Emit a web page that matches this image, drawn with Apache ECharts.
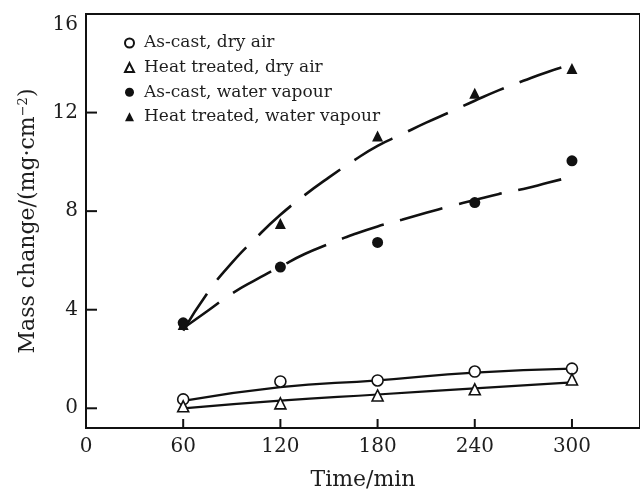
<!DOCTYPE html>
<html>
<head>
<meta charset="utf-8">
<script src="https://cdn.jsdelivr.net/npm/echarts@6/dist/echarts.min.js"></script>
<style>
  html, body { margin: 0; padding: 0; background: #fff; }
  #chart { width: 640px; height: 496px; }
</style>
</head>
<body>
<div id="chart"></div>
<script>
// measured points
const timeVals = [60, 120, 180, 240, 300];
const asCastDry = [0.36, 1.09, 1.13, 1.49, 1.61];
const heatDry = [0.08, 0.2, 0.52, 0.77, 1.17];
const asCastWet = [3.47, 5.73, 6.73, 8.35, 10.04];
const heatWet = [3.4, 7.5, 11.05, 12.78, 13.79];

// fitted curves
const fitTime = [60, 75, 90, 105, 120, 135, 150, 165, 180, 195, 210, 225, 240, 255, 270, 285, 300];
const heatWetFit = [3.15, 4.68, 5.9, 6.92, 7.85, 8.65, 9.37, 10.04, 10.65, 11.12, 11.59, 12.03, 12.48, 12.91, 13.29, 13.65, 13.95];
const asCastWetFit = [3.25, 3.95, 4.65, 5.22, 5.75, 6.26, 6.67, 7.05, 7.38, 7.65, 7.93, 8.2, 8.45, 8.7, 8.9, 9.15, 9.4];
const dryFitTime = [60, 120, 180, 240, 300];
const asCastDryFit = [0.3, 0.86, 1.13, 1.45, 1.61];
const heatDryFit = [0.0, 0.31, 0.56, 0.81, 1.05];

// tick marks
const xTicks = [60, 120, 180, 240, 300];
const yTicks = [0, 4, 8, 12, 16];
const xMin = 0, xMax = 342;
const yMin = -0.8, yMax = 16;
const xStep = 60;
const yStep = 4;

const names = ['As-cast, dry air', 'Heat treated, dry air', 'As-cast, water vapour', 'Heat treated, water vapour'];

const ink = '#111';
const textInk = '#1e1e1e';
const font = 'DejaVu Serif';

function pairs(xs, ys) {
  return xs.map((x, i) => [x, ys[i]]);
}

function fitLine(xs, ys, dashed) {
  return {
    type: 'line',
    data: pairs(xs, ys),
    smooth: true,
    symbol: 'none',
    silent: true,
    z: 1,
    lineStyle: {
      color: ink,
      width: dashed ? 2.6 : 2.2,
      type: dashed ? [44, 17] : 'solid'
    }
  };
}

function points(name, ys, symbol, filled, z) {
  return {
    name: name,
    type: 'scatter',
    data: pairs(timeVals, ys),
    symbol: symbol,
    symbolSize: 11,
    z: z,
    itemStyle: {
      color: filled ? ink : '#fff',
      borderColor: ink,
      borderWidth: filled ? 0 : 1.6,
      opacity: 1
    }
  };
}

// inward tick marks placed through the axis scales
function tickSeries(data, vertical, len) {
  return {
    type: 'custom',
    silent: true,
    clip: false,
    z: 5,
    data: data,
    encode: { x: 0, y: 1 },
    renderItem: function (params, api) {
      const p = api.coord([api.value(0), api.value(1)]);
      return {
        type: 'line',
        shape: vertical
          ? { x1: p[0], y1: p[1], x2: p[0], y2: p[1] - len }
          : { x1: p[0], y1: p[1], x2: p[0] + len, y2: p[1] },
        style: { stroke: ink, lineWidth: 2 }
      };
    }
  };
}

const chart = echarts.init(document.getElementById('chart'));
chart.setOption({
  animation: false,
  backgroundColor: '#fff',
  grid: {
    left: 86,
    right: -3,
    top: 14,
    bottom: 65,
    show: true,
    borderColor: ink,
    borderWidth: 2
  },
  legend: {
    data: names,
    orient: 'vertical',
    left: 119,
    top: 29,
    itemWidth: 9,
    itemHeight: 9,
    itemGap: 6.6,
    textStyle: {
      fontFamily: font,
      fontSize: 17,
      lineHeight: 18,
      color: textInk,
      padding: [0, 0, 0, 5]
    }
  },
  xAxis: {
    type: 'value',
    min: xMin,
    max: xMax,
    interval: xStep,
    name: 'Time/min',
    nameLocation: 'middle',
    nameGap: 41,
    nameTextStyle: { fontFamily: font, fontSize: 22, color: textInk },
    splitLine: { show: false },
    axisLine: { show: true, onZero: false, lineStyle: { color: ink, width: 2 } },
    axisTick: { show: false },
    axisLabel: {
      showMaxLabel: false,
      margin: 9,
      fontFamily: font,
      fontSize: 20,
      color: textInk,
      formatter: function (v) {
        return v % xStep === 0 && v <= 300 ? String(v) : '';
      }
    }
  },
  yAxis: {
    type: 'value',
    min: yMin,
    max: yMax,
    minInterval: yStep,
    maxInterval: yStep,
    name: 'Mass change/(mg·cm{sup|−2})',
    nameLocation: 'middle',
    nameRotate: 90,
    nameGap: 46,
    nameTextStyle: {
      fontFamily: font,
      fontSize: 22,
      color: textInk,
      rich: {
        sup: { fontFamily: font, fontSize: 13, color: textInk, verticalAlign: 'top', padding: [0, 0, 10, 0] }
      }
    },
    splitLine: { show: false },
    axisLine: { show: true, onZero: false, lineStyle: { color: ink, width: 2 } },
    axisTick: { show: false },
    axisLabel: {
      margin: 8,
      fontFamily: font,
      fontSize: 20,
      color: textInk,
      formatter: function (v) {
        if (Math.abs(v % yStep) > 1e-6) return '';
        return v === 16 ? '{top|16}' : String(v);
      },
      rich: {
        top: { fontFamily: font, fontSize: 20, color: textInk, padding: [22, 0, 0, 0] }
      }
    }
  },
  series: [
    fitLine(fitTime, heatWetFit, true),
    fitLine(fitTime, asCastWetFit, true),
    fitLine(dryFitTime, asCastDryFit, false),
    fitLine(dryFitTime, heatDryFit, false),
    points(names[0], asCastDry, 'circle', false, 3),
    points(names[1], heatDry, 'triangle', false, 3),
    points(names[2], asCastWet, 'circle', true, 4),
    points(names[3], heatWet, 'triangle', true, 3),
    tickSeries(xTicks.map(v => [v, yMin]), true, 9),
    tickSeries(yTicks.map(v => [xMin, v]), false, 11)
  ]
});
</script>
</body>
</html>
